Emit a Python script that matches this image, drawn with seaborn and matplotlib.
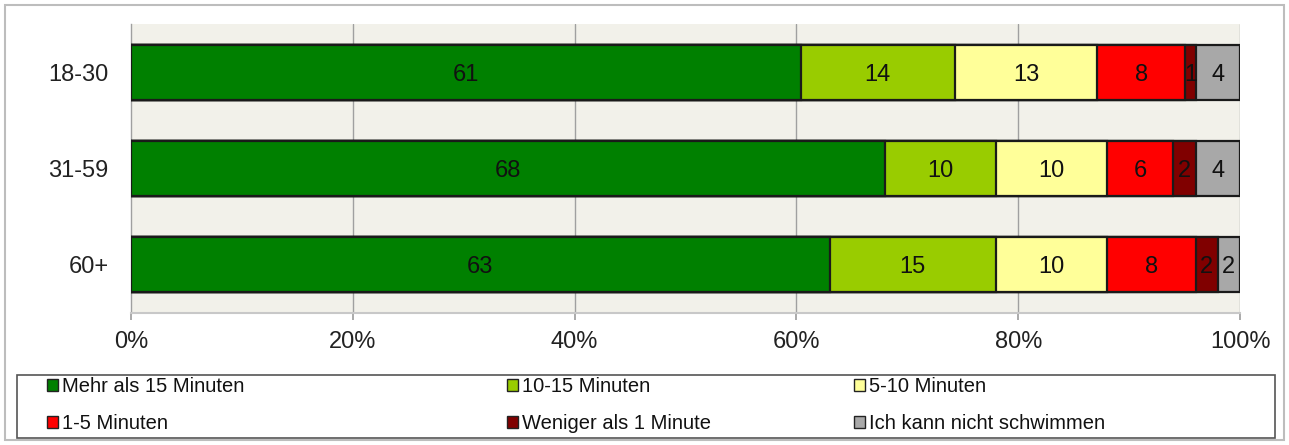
import matplotlib
matplotlib.use("Agg")
import matplotlib.pyplot as plt
from matplotlib.patches import Patch, Rectangle
import seaborn as sns
import numpy as np
import pandas as pd

groups = ["18-30", "31-59", "60+"]
categories = ["Mehr als 15 Minuten", "10-15 Minuten", "5-10 Minuten",
              "1-5 Minuten", "Weniger als 1 Minute", "Ich kann nicht schwimmen"]
mehr15 = [61, 68, 63]
min10_15 = [14, 10, 15]
min5_10 = [13, 10, 10]
min1_5 = [8, 6, 8]
weniger1 = [1, 2, 2]
nicht = [4, 4, 2]
colors = ["#008000", "#99CC00", "#FFFF99", "#FF0000", "#800000", "#A8A8A8"]
xticks = [0, 20, 40, 60, 80, 100]

sns.set_theme(style="white")
plt.rcParams["font.family"] = ["Liberation Sans", "DejaVu Sans"]

series = [mehr15, min10_15, min5_10, min1_5, weniger1, nicht]
vals = np.array(series, dtype=float)  # shape (6,3)
totals = vals.sum(axis=0)
pct = vals / totals * 100
cum = np.cumsum(pct, axis=0)

fig = plt.figure(figsize=(12.89, 4.45), dpi=100)
ax = fig.add_axes([131/1289, 1 - 313/445, (1240-131)/1289, (313-24)/445])
ax.set_facecolor("#F2F1EA")

# draw cumulative bars from the total back to the first segment
for i in range(len(categories) - 1, -1, -1):
    df = pd.DataFrame({"group": groups, "value": cum[i]})
    sns.barplot(data=df, x="value", y="group", orient="h", color=colors[i],
                edgecolor="#1a1a1a", linewidth=1.6, width=0.57, saturation=1,
                ax=ax, zorder=3)

# labels at the centres of segments
for j, g in enumerate(groups):
    left = 0
    for i in range(len(categories)):
        w = pct[i, j]
        ax.text(left + w / 2, j, f"{int(vals[i, j])}", ha="center", va="center_baseline",
                fontsize=17, color="#111111", zorder=5)
        left += w

ax.set_xlim(0, 100)
ax.set_ylim(2.5, -0.5)
ax.set_xticks(xticks)
ax.set_xticklabels([f"{t}%" for t in xticks])
ax.set_xlabel("")
ax.set_ylabel("")
ax.grid(False)
for t in xticks[1:]:
    ax.axvline(t, color="#A0A0A0", linewidth=1.0, zorder=1)

ax.set_yticks(range(len(groups)))
ax.set_yticklabels(groups)
ax.set_yticks([-0.5, 0.5, 1.5, 2.5], minor=True)
ax.tick_params(axis="y", which="major", length=0, labelsize=17, pad=16, labelcolor="#222222")
ax.tick_params(axis="y", which="minor", length=6, color="#A0A0A0", width=1)
ax.tick_params(axis="x", which="major", length=5, color="#A0A0A0", labelsize=17, pad=8,
               labelcolor="#222222", bottom=True)

for s in ["top", "right"]:
    ax.spines[s].set_visible(False)
ax.spines["left"].set_color("#A0A0A0")
ax.spines["bottom"].set_color("#C8C8C8")
ax.spines["left"].set_linewidth(1)
ax.spines["bottom"].set_linewidth(1.5)

# outer border of the figure
fig.patches.append(Rectangle((5/1289, 5/445), 1279/1289, 435/445, transform=fig.transFigure,
                             fill=False, edgecolor="#BDBDBD", linewidth=1.5))
# legend frame
fig.patches.append(Rectangle((17/1289, 1 - 438/445), (1275-17)/1289, (438-375)/445,
                             transform=fig.transFigure, fill=False, edgecolor="#555555",
                             linewidth=1.2))

handles = [Patch(facecolor=c, edgecolor="#222222", linewidth=1.0) for c in colors]
col_x = [47, 507, 854]
for k in range(3):
    idx = [k, k + 3]
    leg = fig.legend([handles[i] for i in idx], [categories[i] for i in idx],
                     loc="center left", bbox_to_anchor=(col_x[k]/1289, 1 - 405/445),
                     frameon=False, fontsize=14.5, handlelength=0.55, handleheight=0.55,
                     handletextpad=0.2, labelspacing=0.9, borderpad=0, borderaxespad=0)
    for t in leg.get_texts():
        t.set_color("#111111")

fig.savefig("out.png", dpi=100)
